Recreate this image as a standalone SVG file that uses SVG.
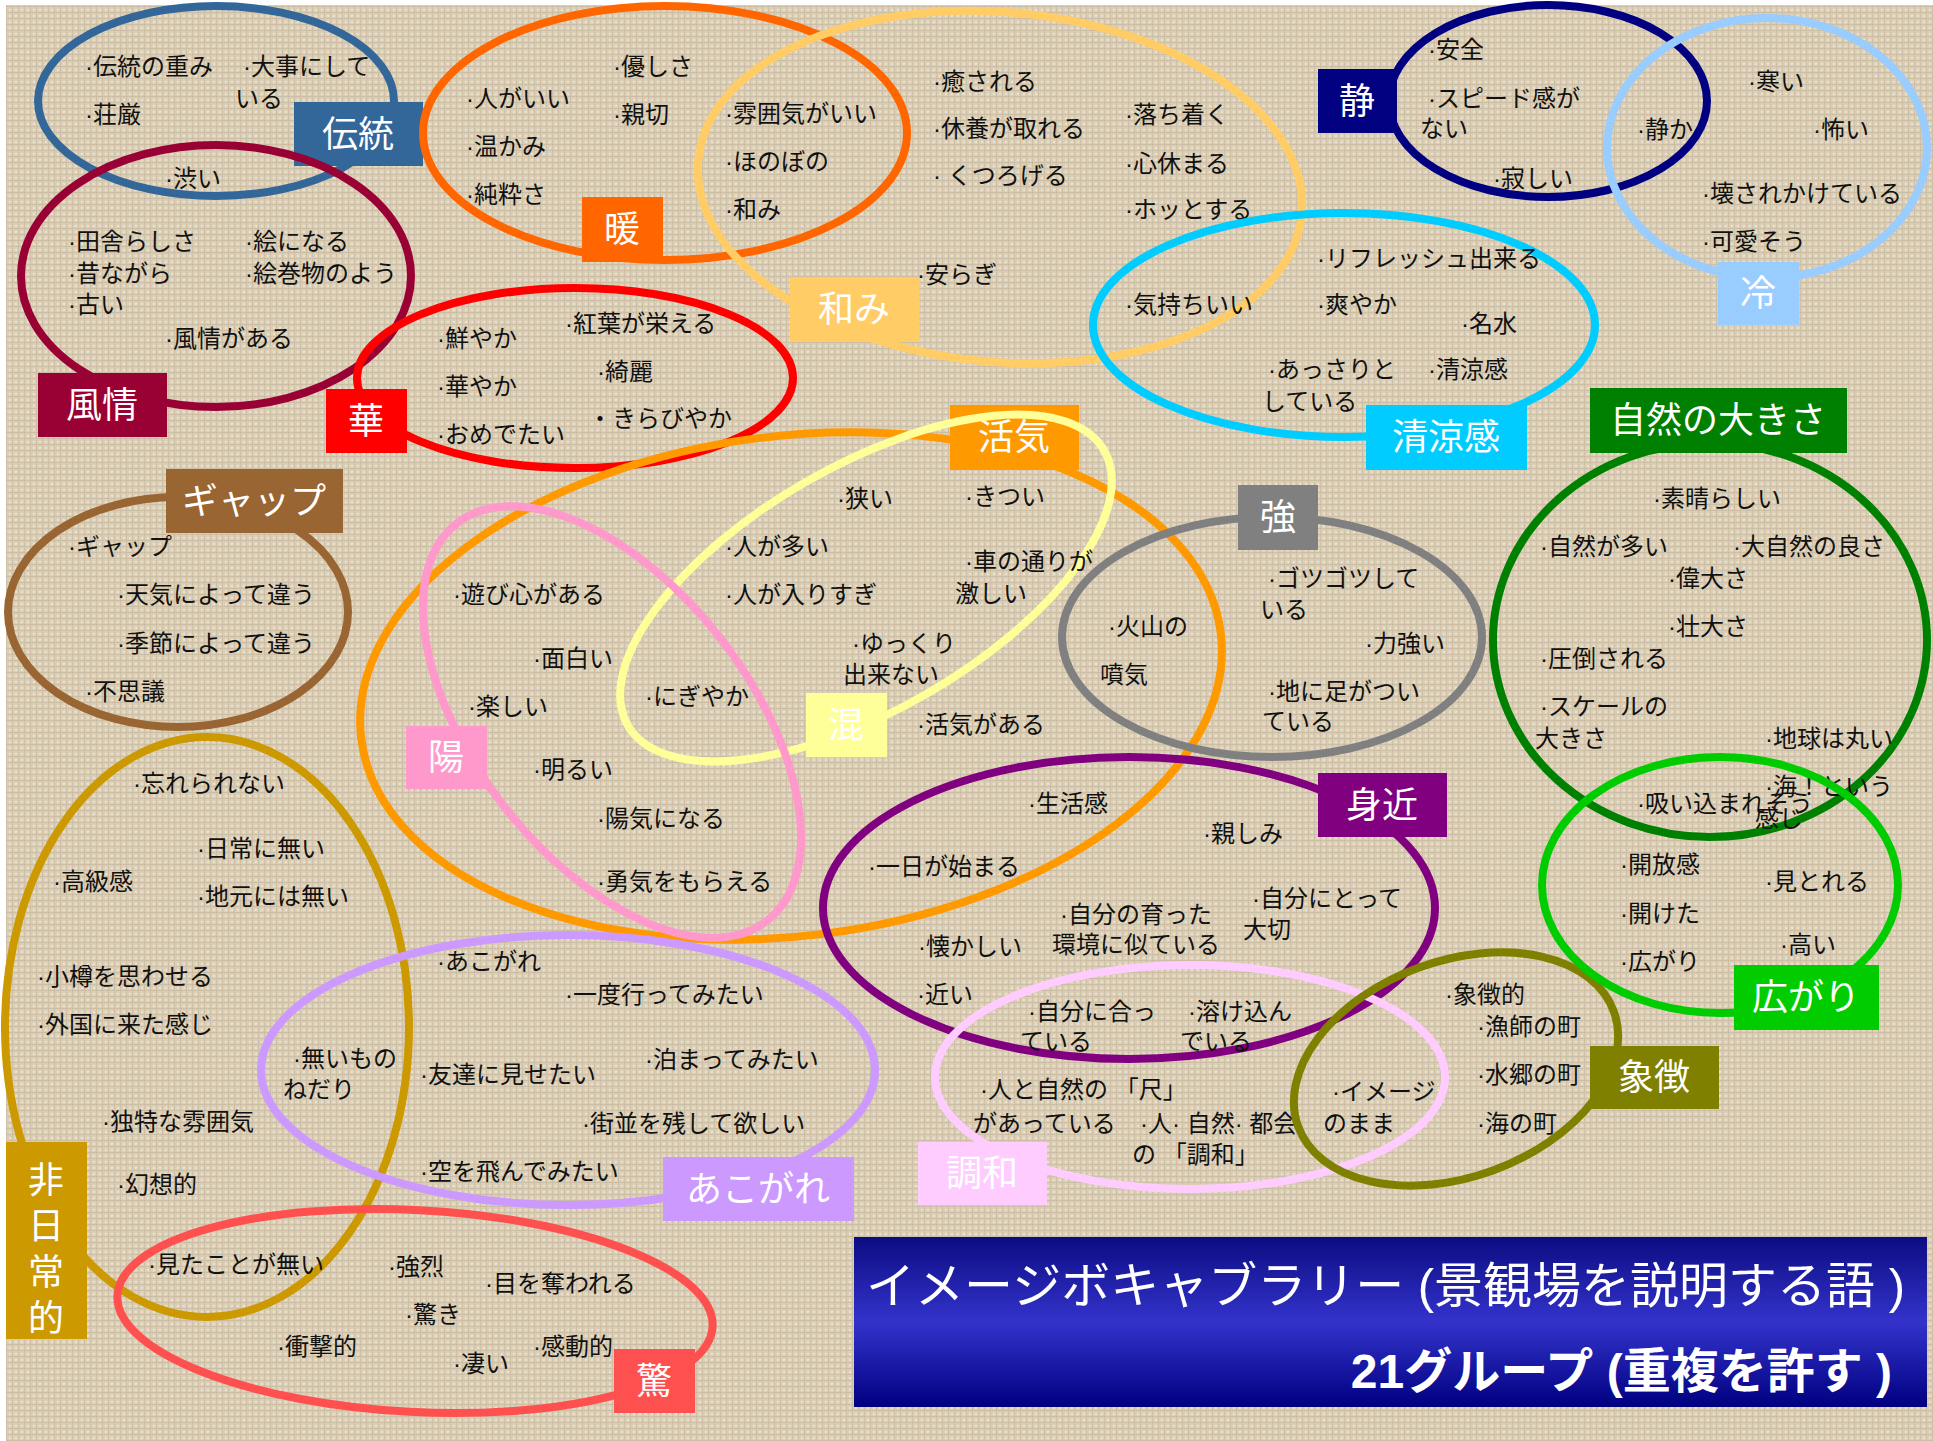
<svg xmlns="http://www.w3.org/2000/svg" width="1933" height="1441" viewBox="0 0 1933 1441">
<defs>
<pattern id="linen" width="6" height="6" patternUnits="userSpaceOnUse">
<rect width="6" height="6" fill="#DCCFB7"/>
<rect width="6" height="1" fill="#C6B89D" opacity="0.7"/>
<rect width="1" height="6" fill="#C6B89D" opacity="0.6"/>
<rect x="3" y="3" width="2" height="2" fill="#EEE6D3" opacity="0.8"/>
</pattern>
<linearGradient id="titleGrad" x1="0" y1="0" x2="0" y2="1">
<stop offset="0" stop-color="#0C0C82"/>
<stop offset="0.5" stop-color="#3333CC"/>
<stop offset="1" stop-color="#000080"/>
</linearGradient>
<style>
.t{font-family:"Liberation Sans","Noto Sans CJK JP","Noto Sans CJK SC",sans-serif;font-size:24px;fill:#111;}
.l{font-family:"Noto Sans CJK JP","Noto Sans CJK SC",sans-serif;font-size:36px;fill:#fff;text-anchor:middle;}
.e{fill:none;stroke-width:8;}
.ttl{font-family:"Liberation Sans","Noto Sans CJK JP","Noto Sans CJK SC",sans-serif;fill:#fff;text-anchor:end;}
</style>
</defs>
<rect width="1933" height="1441" fill="#ffffff"/>
<rect x="6" y="5" width="1927" height="1436" fill="url(#linen)"/>

<g id="node-dento">
<ellipse class="e" cx="216" cy="101" rx="178" ry="95" stroke="#336699"/>
<rect x="294" y="102" width="129" height="64" fill="#336699"/>
<text class="l" x="358" y="147">伝統</text>
<text class="t" x="85" y="75">·伝統の重み</text>
<text class="t" x="243" y="75">·大事にして</text>
<text class="t" x="235" y="107">いる</text>
<text class="t" x="85" y="123">·荘厳</text>
</g>

<g id="node-fuzei">
<ellipse class="e" cx="216" cy="276" rx="195" ry="131" stroke="#990033"/>
<rect x="38" y="373" width="129" height="64" fill="#990033"/>
<text class="l" x="102" y="418">風情</text>
<text class="t" x="165" y="187">·渋い</text>
<text class="t" x="68" y="250">·田舎らしさ</text>
<text class="t" x="68" y="282">·昔ながら</text>
<text class="t" x="68" y="313">·古い</text>
<text class="t" x="245" y="250">·絵になる</text>
<text class="t" x="245" y="282">·絵巻物のよう</text>
<text class="t" x="165" y="347">·風情がある</text>
</g>

<g id="node-dan">
<ellipse class="e" cx="665" cy="133" rx="242" ry="127" stroke="#FF6600"/>
<rect x="582" y="197" width="81" height="65" fill="#FF6600"/>
<text class="l" x="622" y="242">暖</text>
<text class="t" x="466" y="107">·人がいい</text>
<text class="t" x="466" y="155">·温かみ</text>
<text class="t" x="466" y="203">·純粋さ</text>
<text class="t" x="613" y="75">·優しさ</text>
<text class="t" x="613" y="123">·親切</text>
</g>

<g id="node-nagomi">
<ellipse class="e" cx="1000" cy="187" rx="303" ry="175" transform="rotate(5 1000 187)" stroke="#FFCC66"/>
<rect x="790" y="277" width="129" height="65" fill="#FFCC66"/>
<text class="l" x="854" y="322">和み</text>
<text class="t" x="725" y="122">·雰囲気がいい</text>
<text class="t" x="725" y="170">·ほのぼの</text>
<text class="t" x="725" y="218">·和み</text>
<text class="t" x="933" y="90">·癒される</text>
<text class="t" x="933" y="137">·休養が取れる</text>
<text class="t" x="933" y="184">· くつろげる</text>
<text class="t" x="1125" y="123">·落ち着く</text>
<text class="t" x="1125" y="172">·心休まる</text>
<text class="t" x="1125" y="218">·ホッとする</text>
<text class="t" x="917" y="283">·安らぎ</text>
</g>

<g id="node-sei">
<ellipse class="e" cx="1548" cy="101" rx="159" ry="96" stroke="#000080"/>
<rect x="1318" y="69" width="79" height="64" fill="#000080"/>
<text class="l" x="1357" y="114">静</text>
<text class="t" x="1428" y="58">·安全</text>
<text class="t" x="1428" y="107">·スピード感が</text>
<text class="t" x="1420" y="137">ない</text>
<text class="t" x="1493" y="187">·寂しい</text>
</g>

<g id="node-rei">
<ellipse class="e" cx="1767" cy="148" rx="160" ry="130" stroke="#99CCFF"/>
<rect x="1718" y="262" width="81" height="63" fill="#99CCFF"/>
<text class="l" x="1758" y="306">冷</text>
<text class="t" x="1637" y="138">·静か</text>
<text class="t" x="1748" y="90">·寒い</text>
<text class="t" x="1813" y="138">·怖い</text>
<text class="t" x="1702" y="202">·壊されかけている</text>
<text class="t" x="1702" y="250">·可愛そう</text>
</g>

<g id="node-seiryokan">
<ellipse class="e" cx="1344" cy="325" rx="251" ry="112" stroke="#00CCFF"/>
<rect x="1366" y="405" width="161" height="65" fill="#00CCFF"/>
<text class="l" x="1446" y="450">清涼感</text>
<text class="t" x="1125" y="313">·気持ちいい</text>
<text class="t" x="1317" y="267">·リフレッシュ出来る</text>
<text class="t" x="1317" y="313">·爽やか</text>
<text class="t" x="1461" y="332">·名水</text>
<text class="t" x="1428" y="378">·清涼感</text>
<text class="t" x="1268" y="378">·あっさりと</text>
<text class="t" x="1262" y="410">している</text>
</g>

<g id="node-hana">
<ellipse class="e" cx="575" cy="378" rx="218" ry="90" stroke="#FF0000"/>
<rect x="326" y="389" width="81" height="64" fill="#FF0000"/>
<text class="l" x="366" y="434">華</text>
<text class="t" x="437" y="347">·鮮やか</text>
<text class="t" x="437" y="395">·華やか</text>
<text class="t" x="437" y="443">·おめでたい</text>
<text class="t" x="565" y="332">·紅葉が栄える</text>
<text class="t" x="597" y="380">·綺麗</text>
<text class="t" x="588" y="427">・きらびやか</text>
</g>

<g id="node-kakki">
<ellipse class="e" cx="791" cy="686" rx="433" ry="250" transform="rotate(-7 791 686)" stroke="#FF9900"/>
<rect x="950" y="405" width="129" height="65" fill="#FF9900"/>
<text class="l" x="1014" y="450">活気</text>
<text class="t" x="917" y="733">·活気がある</text>
</g>

<g id="node-kon">
<ellipse class="e" cx="866" cy="588" rx="275" ry="122" transform="rotate(-30 866 588)" stroke="#FFFF99"/>
<rect x="806" y="693" width="81" height="64" fill="#FFFF99"/>
<text class="l" x="846" y="738">混</text>
<text class="t" x="837" y="507">·狭い</text>
<text class="t" x="725" y="555">·人が多い</text>
<text class="t" x="725" y="603">·人が入りすぎ</text>
<text class="t" x="645" y="705">·にぎやか</text>
<text class="t" x="852" y="652">·ゆっくり</text>
<text class="t" x="843" y="683">出来ない</text>
<text class="t" x="965" y="505">·きつい</text>
<text class="t" x="965" y="570">·車の通りが</text>
<text class="t" x="955" y="602">激しい</text>
</g>

<g id="node-yo">
<ellipse class="e" cx="612" cy="722" rx="252" ry="137" transform="rotate(52 612 722)" stroke="#FF99CC"/>
<rect x="406" y="726" width="81" height="63" fill="#FF99CC"/>
<text class="l" x="446" y="770">陽</text>
<text class="t" x="453" y="603">·遊び心がある</text>
<text class="t" x="533" y="667">·面白い</text>
<text class="t" x="468" y="715">·楽しい</text>
<text class="t" x="533" y="778">·明るい</text>
<text class="t" x="597" y="827">·陽気になる</text>
<text class="t" x="597" y="890">·勇気をもらえる</text>
</g>

<g id="node-kyo">
<ellipse class="e" cx="1272" cy="637" rx="210" ry="120" stroke="#808080"/>
<rect x="1238" y="485" width="80" height="65" fill="#808080"/>
<text class="l" x="1278" y="530">強</text>
<text class="t" x="1108" y="635">·火山の</text>
<text class="t" x="1100" y="683">噴気</text>
<text class="t" x="1268" y="587">·ゴツゴツして</text>
<text class="t" x="1260" y="618">いる</text>
<text class="t" x="1365" y="652">·力強い</text>
<text class="t" x="1268" y="700">·地に足がつい</text>
<text class="t" x="1262" y="730">ている</text>
</g>

<g id="node-mijika">
<ellipse class="e" cx="1129" cy="908" rx="306" ry="151" stroke="#800080"/>
<rect x="1318" y="773" width="129" height="64" fill="#800080"/>
<text class="l" x="1382" y="818">身近</text>
<text class="t" x="1028" y="812">·生活感</text>
<text class="t" x="1203" y="842">·親しみ</text>
<text class="t" x="868" y="875">·一日が始まる</text>
<text class="t" x="1252" y="907">·自分にとって</text>
<text class="t" x="1243" y="938">大切</text>
<text class="t" x="1060" y="923">·自分の育った</text>
<text class="t" x="1052" y="953">環境に似ている</text>
<text class="t" x="918" y="955">·懐かしい</text>
<text class="t" x="917" y="1003">·近い</text>
</g>

<g id="node-gap">
<ellipse class="e" cx="178" cy="612" rx="170" ry="115" stroke="#996633"/>
<rect x="166" y="469" width="177" height="64" fill="#996633"/>
<text class="l" x="254" y="514">ギャップ</text>
<text class="t" x="68" y="555">·ギャップ</text>
<text class="t" x="117" y="603">·天気によって違う</text>
<text class="t" x="117" y="652">·季節によって違う</text>
<text class="t" x="85" y="700">·不思議</text>
</g>

<g id="node-hinichijo">
<ellipse class="e" cx="207" cy="1027" rx="202" ry="290" stroke="#CC9900"/>
<rect x="6" y="1142" width="81" height="197" fill="#CC9900"/>
<text class="l" x="46" y="1193">非</text>
<text class="l" x="46" y="1239">日</text>
<text class="l" x="46" y="1285">常</text>
<text class="l" x="46" y="1331">的</text>
<text class="t" x="133" y="792">·忘れられない</text>
<text class="t" x="197" y="857">·日常に無い</text>
<text class="t" x="53" y="890">·高級感</text>
<text class="t" x="197" y="905">·地元には無い</text>
<text class="t" x="37" y="985">·小樽を思わせる</text>
<text class="t" x="37" y="1033">·外国に来た感じ</text>
<text class="t" x="102" y="1130">·独特な雰囲気</text>
<text class="t" x="117" y="1193">·幻想的</text>
<text class="t" x="148" y="1273">·見たことが無い</text>
</g>

<g id="node-akogare">
<ellipse class="e" cx="568" cy="1070" rx="307" ry="135" stroke="#CC99FF"/>
<rect x="663" y="1157" width="191" height="64" fill="#CC99FF"/>
<text class="l" x="758" y="1202">あこがれ</text>
<text class="t" x="437" y="970">·あこがれ</text>
<text class="t" x="565" y="1003">·一度行ってみたい</text>
<text class="t" x="293" y="1067">·無いもの</text>
<text class="t" x="283" y="1098">ねだり</text>
<text class="t" x="420" y="1083">·友達に見せたい</text>
<text class="t" x="645" y="1068">·泊まってみたい</text>
<text class="t" x="582" y="1132">·街並を残して欲しい</text>
<text class="t" x="420" y="1180">·空を飛んでみたい</text>
</g>

<g id="node-odoroki">
<ellipse class="e" cx="415" cy="1311" rx="298" ry="101" transform="rotate(3 415 1311)" stroke="#FF5050"/>
<rect x="614" y="1349" width="81" height="64" fill="#FF5050"/>
<text class="l" x="654" y="1394">驚</text>
<text class="t" x="388" y="1275">·強烈</text>
<text class="t" x="405" y="1323">·驚き</text>
<text class="t" x="277" y="1355">·衝撃的</text>
<text class="t" x="453" y="1372">·凄い</text>
<text class="t" x="485" y="1292">·目を奪われる</text>
<text class="t" x="533" y="1355">·感動的</text>
</g>

<g id="node-chowa">
<ellipse class="e" cx="1190" cy="1077" rx="255" ry="112" stroke="#FFCCFF"/>
<rect x="918" y="1142" width="129" height="63" fill="#FFCCFF"/>
<text class="l" x="982" y="1186">調和</text>
<text class="t" x="1028" y="1020">·自分に合っ</text>
<text class="t" x="1020" y="1050">ている</text>
<text class="t" x="1188" y="1020">·溶け込ん</text>
<text class="t" x="1180" y="1050">でいる</text>
<text class="t" x="980" y="1098">·人と自然の 「尺」</text>
<text class="t" x="973" y="1132">があっている</text>
<text class="t" x="1140" y="1132">·人· 自然· 都会</text>
<text class="t" x="1132" y="1163">の 「調和」</text>
</g>

<g id="node-shocho">
<ellipse class="e" cx="1456" cy="1069" rx="168" ry="108" transform="rotate(-20 1456 1069)" stroke="#808000"/>
<rect x="1590" y="1046" width="129" height="63" fill="#808000"/>
<text class="l" x="1654" y="1090">象徴</text>
<text class="t" x="1332" y="1100">·イメージ</text>
<text class="t" x="1323" y="1132">のまま</text>
<text class="t" x="1445" y="1003">·象徴的</text>
<text class="t" x="1477" y="1035">·漁師の町</text>
<text class="t" x="1477" y="1083">·水郷の町</text>
<text class="t" x="1477" y="1132">·海の町</text>
</g>

<g id="node-shizen">
<ellipse class="e" cx="1710" cy="640" rx="217" ry="197" stroke="#008000"/>
<rect x="1590" y="388" width="257" height="65" fill="#008000"/>
<text class="l" x="1718" y="433">自然の大きさ</text>
<text class="t" x="1653" y="507">·素晴らしい</text>
<text class="t" x="1540" y="555">·自然が多い</text>
<text class="t" x="1733" y="555">·大自然の良さ</text>
<text class="t" x="1668" y="587">·偉大さ</text>
<text class="t" x="1668" y="635">·壮大さ</text>
<text class="t" x="1540" y="667">·圧倒される</text>
<text class="t" x="1540" y="715">·スケールの</text>
<text class="t" x="1535" y="747">大きさ</text>
<text class="t" x="1765" y="747">·地球は丸い</text>
<text class="t" x="1765" y="795">·海！という</text>
<text class="t" x="1755" y="827">感じ</text>
<text class="t" x="1637" y="812">·吸い込まれそう</text>
</g>

<g id="node-hirogari">
<ellipse class="e" cx="1720" cy="885" rx="178" ry="128" stroke="#00CC00"/>
<rect x="1734" y="965" width="145" height="65" fill="#00CC00"/>
<text class="l" x="1806" y="1010">広がり</text>
<text class="t" x="1620" y="873">·開放感</text>
<text class="t" x="1765" y="890">·見とれる</text>
<text class="t" x="1620" y="922">·開けた</text>
<text class="t" x="1780" y="953">·高い</text>
<text class="t" x="1620" y="970">·広がり</text>
</g>

<g id="connectors"></g>

<g id="title">
<rect x="854" y="1237" width="1073" height="170" fill="url(#titleGrad)"/>
<text class="ttl" x="1905" y="1303" font-size="49">イメージボキャブラリー (景観場を説明する語 )</text>
<text class="ttl" x="1892" y="1388" font-size="48" font-weight="bold">21グループ (重複を許す )</text>
</g>
</svg>
